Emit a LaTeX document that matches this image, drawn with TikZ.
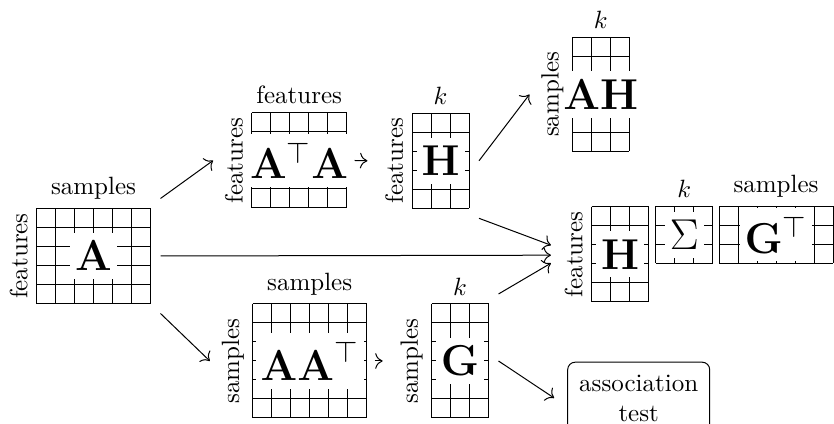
\RequirePackage{fix-cm}
\documentclass[tikz,border=0pt]{standalone}
\usetikzlibrary{calc,arrows.meta}

% one cell of a matrix sketch is 19 units (7.6pt)
\newcommand\cellgrid[3]{% node, columns, rows
  \foreach \i in {0,...,#2}
    \draw ($(#1.north west)+(\i*19,0)$) -- ($(#1.south west)+(\i*19,0)$);
  \foreach \j in {0,...,#3}
    \draw ($(#1.north west)+(0,\j*19)$) -- ($(#1.north east)+(0,\j*19)$);
}

\begin{document}
\begin{tikzpicture}[x=0.4pt,y=-0.4pt,
  cells/.style 2 args={inner sep=0pt,outer sep=0pt,
    minimum width=#1*7.6pt,minimum height=#2*7.6pt},
  biglbl/.style={fill=white,inner xsep=2pt,inner ysep=3.3pt,
    font=\fontsize{17.28}{21}\selectfont},
  toplbl/.style={anchor=south},
  sidelbl/.style={rotate=90,anchor=south},
  arr/.style={-{To[scale=1.2]}},
  testbox/.style={draw,rounded corners=3pt,align=center,inner xsep=4.6pt,
    inner ysep=5pt}]
\useasboundingbox (0,0) rectangle (834,424);

% input matrix
\node[cells={6}{5}] (A) at (93.5,256) {};
\cellgrid{A}{6}{5}
\node[biglbl] (A-t) at (A) {$\mathbf{A}$};
\node[toplbl] (A-top) at (A.north) {samples};
\node[sidelbl] (A-side) at (A.west) {features};

% feature covariance
\node[cells={5}{5}] (AtA) at (299.2,160.5) {};
\cellgrid{AtA}{5}{5}
\node[biglbl] (AtA-t) at (AtA) {$\mathbf{A}^{\top}\mathbf{A}$};
\node[toplbl] (AtA-top) at (AtA.north) {features};
\node[sidelbl] (AtA-side) at (AtA.west) {features};

% eigenvectors H
\node[cells={3}{5}] (H1) at (440.5,160.8) {};
\cellgrid{H1}{3}{5}
\node[biglbl] (H1-t) at (H1) {$\mathbf{H}$};
\node[toplbl] (H1-top) at (H1.north) {$k$};
\node[sidelbl] (H1-side) at (H1.west) {features};

% projection AH
\node[cells={3}{6}] (AH) at (600.8,94.5) {};
\cellgrid{AH}{3}{6}
\node[biglbl] (AH-t) at (AH) {$\mathbf{AH}$};
\node[toplbl] (AH-top) at (AH.north) {$k$};
\node[sidelbl] (AH-side) at (AH.west) {samples};

% decomposition H Sigma G^T
\node[cells={3}{5}] (H2) at (620,254.2) {};
\cellgrid{H2}{3}{5}
\node[biglbl] (H2-t) at (H2) {$\mathbf{H}$};
\node[sidelbl] (H2-side) at (H2.west) {features};

\node[cells={3}{3}] (S) at (684.3,235) {};
\cellgrid{S}{3}{3}
\node[biglbl] (S-t) at (S) {$\Sigma$};
\node[toplbl] (S-top) at (S.north) {$k$};

\node[cells={6}{3}] (Gt) at (776,235) {};
\cellgrid{Gt}{6}{3}
\node[biglbl] (Gt-t) at (Gt) {$\mathbf{G}^{\top}$};
\node[toplbl] (Gt-top) at (Gt.north) {samples};

% sample covariance
\node[cells={6}{6}] (AAt) at (309.7,361) {};
\cellgrid{AAt}{6}{6}
\node[biglbl] (AAt-t) at (AAt) {$\mathbf{AA}^{\top}$};
\node[toplbl] (AAt-top) at (AAt.north) {samples};
\node[sidelbl] (AAt-side) at (AAt.west) {samples};

% eigenvectors G
\node[cells={3}{6}] (G) at (460,361) {};
\cellgrid{G}{3}{6}
\node[biglbl] (G-t) at (G) {$\mathbf{G}$};
\node[toplbl] (G-top) at (G.north) {$k$};
\node[sidelbl] (G-side) at (G.west) {samples};

% downstream test
\node[testbox,anchor=north] (test) at (638.7,361.7) {association\\test};

% flow
\draw[arr] ($(A.north east)+(10,-10)$) -- ($(AtA-side.north)+(-3,0)$);
\draw[arr] ($(A.south east)+(10,10)$) -- ($(AAt-side.north)+(-3,0)$);
\draw[arr] ($(A.east)+(10,0)$) -- ($(H2-side.north)+(-5,1)$);
\draw[arr] ($(AtA.east)+(8,0)$) -- ($(H1-side.north)+(-9,0)$);
\draw[arr] ($(H1.east)+(10,0)$) -- ($(AH-side.north)+(-3,0)$);
\draw[arr] ($(H1.south east)+(10,10)$) -- ($(H2-side.north)+(-5,-9)$);
\draw[arr] ($(AAt.east)+(8,0)$) -- ($(G-side.north)+(-9,0)$);
\draw[arr] ($(G.north east)+(10,-10)$) -- ($(H2-side.north)+(-5,9)$);
\draw[arr] ($(G.east)+(10,0)$) -- ($(test.west)+(-13,0)$);
\end{tikzpicture}
\end{document}
